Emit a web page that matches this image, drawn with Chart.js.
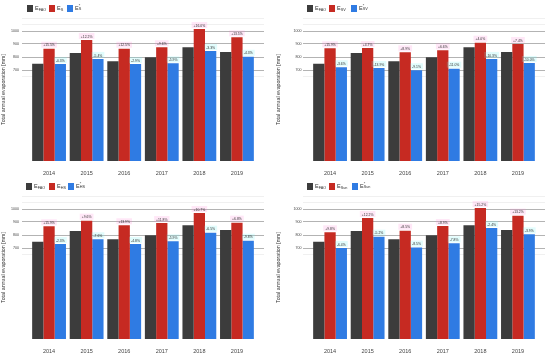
<!DOCTYPE html>
<html>
<head>
<meta charset="utf-8">
<script src="https://cdn.jsdelivr.net/npm/chart.js@4/dist/chart.umd.min.js"></script>
<style>
body{margin:0;background:#fff;font-family:'Liberation Sans',Arial,sans-serif;}
.panel{position:absolute;width:275px;}
.panel canvas{position:absolute;left:0;top:0;}
.lg{position:absolute;top:4px;height:8px;display:flex;align-items:center;font-size:5.5px;color:#333;white-space:nowrap;}
.lg .box{width:6px;height:7px;margin-right:2px;}
.lg sub{font-size:3.8px;vertical-align:-1px;}
.ss{display:inline-flex;flex-direction:column;font-size:3.8px;line-height:3.2px;vertical-align:middle;}
</style>
</head>
<body>
<div id="wrap"></div>
<script>
// data
const years = ['2014', '2015', '2016', '2017', '2018', '2019'];
const eFao = [748, 830, 768, 798, 875, 838];
const eS = [864, 931, 864, 875, 1015, 951];
const eSStar = [746, 785, 746, 751, 846, 802];
const eSV = [867, 869, 836, 851, 910, 900];
const eSVStar = [721, 715, 698, 710, 785, 754];
const eHS = [867, 910, 875, 892, 969, 895];
const eHSStar = [731, 767, 731, 751, 818, 756];
const eSun = [821, 931, 833, 869, 1008, 949];
const eSunStar = [700, 787, 703, 736, 854, 805];
const yTickLabels = [700, 800, 900, 1000];
const yFaint = [650, 1050, 1100];

const colFao = '#3c3c3c';
const colRed = '#c62a22';
const colBlue = '#2f7be3';

const panels = [
	{left: 0, top: 0, h: 178, yw: 22, pad: 3, sub: 'S', a: eS, b: eSStar, lg: [27, 49, 67]},
	{left: 275, top: 0, h: 178, yw: 28, pad: 1.5, sub: 'SV', a: eSV, b: eSVStar, lg: [32, 54, 76]},
	{left: 0, top: 178, h: 180, yw: 22, pad: 3, sub: 'HS', a: eHS, b: eHSStar, lg: [26, 49, 68]},
	{left: 275, top: 178, h: 180, yw: 28, pad: 1.5, sub: 'Sun', a: eSun, b: eSunStar, lg: [32, 54, 77]}
];

const valueLabels = {
	id: 'valueLabels',
	afterDatasetsDraw(chart) {
		let ctx = chart.ctx;
		let base = chart.data.datasets[0].data;
		ctx.save();
		ctx.font = '3.4px "Liberation Sans"';
		ctx.textAlign = 'center';
		ctx.textBaseline = 'bottom';
		[1, 2].forEach(di => {
			let meta = chart.getDatasetMeta(di);
			meta.data.forEach((bar, i) => {
				let v = chart.data.datasets[di].data[i].y;
				let b = base[i].y;
				let pct = (v - b) / b * 100;
				let txt = (pct >= 0 ? '+' : '') + pct.toFixed(1) + '%';
				let w = ctx.measureText(txt).width;
				ctx.fillStyle = di === 1 ? 'rgba(255,120,210,0.18)' : 'rgba(120,240,240,0.22)';
				ctx.fillRect(bar.x - w / 2 - 2, bar.y - 7, w + 4, 6);
				ctx.fillStyle = '#333';
				ctx.fillText(txt, bar.x, bar.y - 1.5);
			});
		});
		ctx.restore();
	}
};

let wrap = document.getElementById('wrap');
panels.forEach(p => {
	let div = document.createElement('div');
	div.className = 'panel';
	div.style.left = p.left + 'px';
	div.style.top = p.top + 'px';
	div.style.height = p.h + 'px';
	let canvas = document.createElement('canvas');
	canvas.width = 275;
	canvas.height = p.h;
	canvas.style.width = '275px';
	canvas.style.height = p.h + 'px';
	div.appendChild(canvas);

	let names = [
		'E<sub>FAO</sub>',
		'E<sub>' + p.sub + '</sub>',
		'E<span class="ss"><span>*</span><span>' + p.sub + '</span></span>'
	];
	let cols = [colFao, colRed, colBlue];
	names.forEach((n, k) => {
		let item = document.createElement('div');
		item.className = 'lg';
		item.style.left = p.lg[k] + 'px';
		item.innerHTML = '<span class="box" style="background:' + cols[k] + '"></span><span>' + n + '</span>';
		div.appendChild(item);
	});
	wrap.appendChild(div);

	let toXY = arr => arr.map((v, i) => ({x: i, y: v}));
	new Chart(canvas.getContext('2d'), {
		type: 'bar',
		data: {
			datasets: [
				{data: toXY(eFao), backgroundColor: colFao},
				{data: toXY(p.a), backgroundColor: colRed},
				{data: toXY(p.b), backgroundColor: colBlue}
			]
		},
		options: {
			responsive: false,
			animation: false,
			devicePixelRatio: 1,
			categoryPercentage: 0.9,
			barPercentage: 1.0,
			layout: {padding: {top: 18, left: 0, right: 275 - p.yw - 242, bottom: 0}},
			plugins: {legend: {display: false}, tooltip: {enabled: false}},
			scales: {
				x: {
					type: 'linear',
					offset: false,
					min: -0.72,
					max: 5.72,
					afterBuildTicks: s => { s.ticks = years.map((_, i) => ({value: i})); },
					afterFit: s => { s.height = p.h - 161; },
					ticks: {
						callback: v => years[v],
						font: {size: 5.5, family: 'Liberation Sans'},
						color: '#444',
						padding: 9,
						autoSkip: false,
						maxRotation: 0
					},
					grid: {display: false, drawTicks: false, offset: false},
					border: {display: false}
				},
				y: {
					min: 0,
					max: 1100,
					afterBuildTicks: s => { s.ticks = yFaint.concat(yTickLabels).map(v => ({value: v})); },
					afterFit: s => { s.width = p.yw; },
					ticks: {
						callback: v => yTickLabels.includes(v) ? String(v) : '',
						font: {size: 3.6, family: 'Liberation Sans'},
						color: '#444',
						padding: p.pad
					},
					grid: {
						drawTicks: false,
						lineWidth: 0.8,
						color: c => yTickLabels.includes(c.tick.value) ? '#a0a0a0' : '#ececec'
					},
					border: {display: false},
					title: {
						display: true,
						text: 'Total annual evaporation [mm]',
						font: {size: 5.3, family: 'Liberation Sans'},
						color: '#333',
						padding: 0
					}
				}
			}
		},
		plugins: [valueLabels]
	});
});
</script>
</body>
</html>
